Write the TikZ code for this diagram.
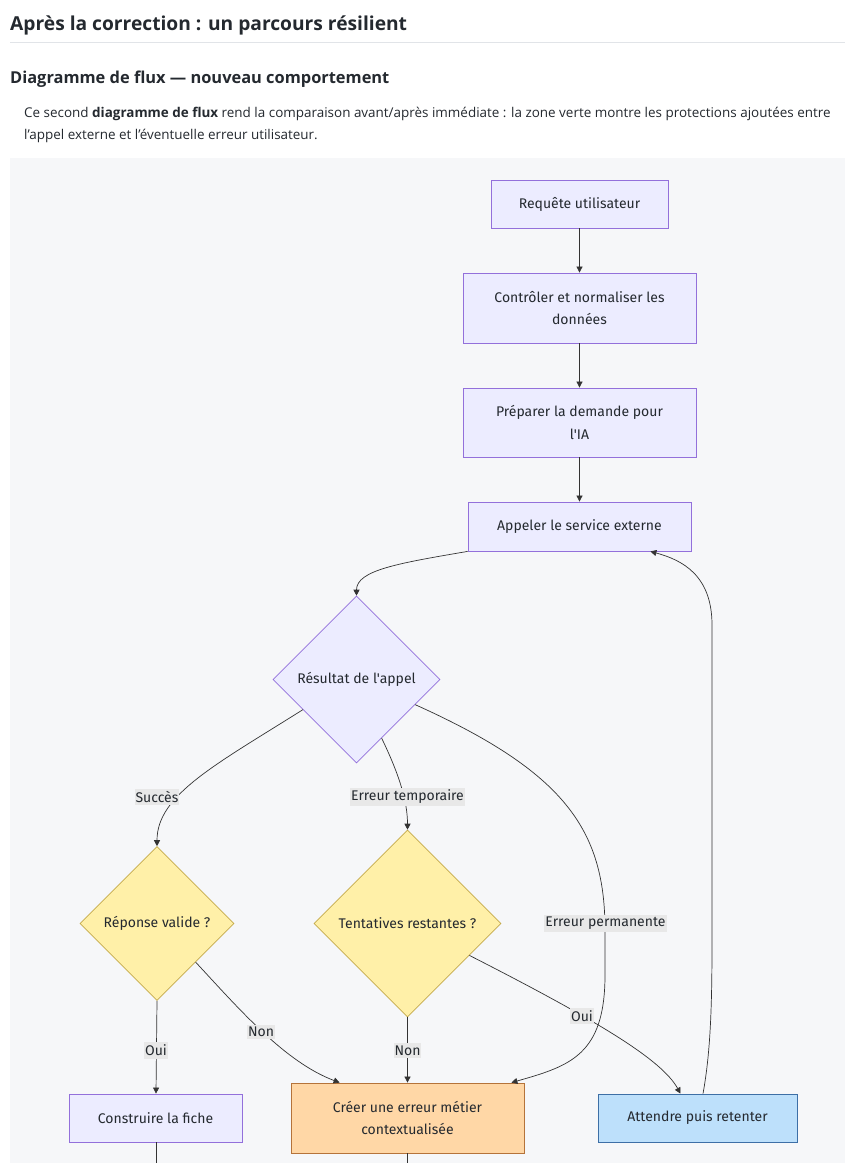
\documentclass[tikz,border=0pt]{standalone}
\usepackage{fontspec}
\setmainfont{Open Sans}
\newfontfamily\dfont{Fira Sans}
\usetikzlibrary{shapes.geometric,arrows.meta,calc}
\definecolor{bgpanel}{HTML}{F6F7F9}
\definecolor{purplefill}{HTML}{ECECFF}
\definecolor{purpleline}{HTML}{9370DB}
\definecolor{yellowfill}{HTML}{FFF0A8}
\definecolor{yellowline}{HTML}{C4AA4A}
\definecolor{orangefill}{HTML}{FFD7A6}
\definecolor{orangeline}{HTML}{B5733A}
\definecolor{bluefill}{HTML}{BDE0FB}
\definecolor{blueline}{HTML}{3D6FA6}
\definecolor{edgecol}{HTML}{333333}
\definecolor{txtcol}{HTML}{24292F}
\definecolor{lblfill}{HTML}{E8E8E8}
\definecolor{rulecol}{HTML}{E1E4E8}
\tikzset{
  x=1pt, y=-1pt,
  dtext/.style={font=\dfont\fontsize{14}{22.5}\selectfont, text=txtcol, align=center},
  pbox/.style={dtext, draw=purpleline, fill=purplefill, line width=0.8pt, rectangle, inner sep=0pt},
  ybox/.style={dtext, draw=yellowline, fill=yellowfill, line width=0.6pt, diamond, aspect=1, inner sep=0pt},
  pdia/.style={dtext, draw=purpleline, fill=purplefill, line width=0.6pt, diamond, aspect=1, inner sep=0pt},
  obox/.style={dtext, draw=orangeline, fill=orangefill, line width=0.8pt, rectangle, inner sep=0pt},
  bbox/.style={dtext, draw=blueline, fill=bluefill, line width=0.8pt, rectangle, inner sep=0pt},
  flow/.style={draw=edgecol, line width=0.7pt, -{Triangle[length=6pt,width=6pt]}},
  plain/.style={draw=edgecol, line width=0.7pt},
  lbl/.style={font=\dfont\fontsize{14}{16}\selectfont, text=txtcol, fill=lblfill, inner xsep=1pt, inner ysep=2.5pt},
}
\begin{document}
\begin{tikzpicture}
\useasboundingbox (0,0) rectangle (845,1163);
\fill[white] (0,0) rectangle (845,1163);
% headings
\node[anchor=base west, inner sep=0, text=txtcol, font=\fontsize{19.2}{24}\selectfont\bfseries] (title) at (10,30) {Après la correction : un parcours résilient};
\draw[rulecol, line width=0.8pt] (10,42.5) -- (845,42.5);
\node[anchor=base west, inner sep=0, text=txtcol, font=\fontsize{16.4}{20}\selectfont\bfseries] (sub) at (10,83) {Diagramme de flux — nouveau comportement};
\node[anchor=base west, inner sep=0, text=txtcol, font=\fontsize{13.45}{16}\selectfont] (p1) at (24,117) {Ce second \textbf{diagramme de flux} rend la comparaison avant/après immédiate : la zone verte montre les protections ajoutées entre};
\node[anchor=base west, inner sep=0, text=txtcol, font=\fontsize{13.45}{16}\selectfont] (p2) at (24,139) {l’appel externe et l’éventuelle erreur utilisateur.};
% panel
\fill[bgpanel] (10,158) rectangle (845,1163);
% nodes
\node[pbox, minimum width=177pt, minimum height=48pt] (req) at (579.5,204) {Requête utilisateur};
\node[pbox, minimum width=233pt, minimum height=70pt] (ctrl) at (579.5,308) {Contrôler et normaliser les\\données};
\node[pbox, minimum width=233pt, minimum height=69pt] (prep) at (579.5,422.5) {Préparer la demande pour\\l'IA};
\node[pbox, minimum width=223pt, minimum height=49pt] (call) at (579.5,526.5) {Appeler le service externe};
\node[pdia, minimum width=167pt, minimum height=167pt] (res) at (356.5,679.5) {Résultat de l'appel};
\node[ybox, minimum width=154pt, minimum height=154pt] (rv) at (157,923.5) {Réponse valide ?};
\node[ybox, minimum width=187pt, minimum height=187pt] (tent) at (407.5,923.5) {Tentatives restantes ?};
\node[pbox, minimum width=173pt, minimum height=48pt] (fiche) at (155.5,1118) {Construire la fiche};
\node[obox, minimum width=233pt, minimum height=70pt] (err) at (407.5,1118) {Créer une erreur métier\\contextualisée};
\node[bbox, minimum width=199pt, minimum height=48pt] (wait) at (697.5,1118) {Attendre puis retenter};
\coordinate (ficheout) at (156,1163);
\coordinate (errout) at (407.5,1163);
% edges
\draw[flow] (req) -- (ctrl);
\draw[flow] (ctrl) -- (prep);
\draw[flow] (prep) -- (call);
\draw[flow] (call.south west) .. controls (400,563) and (356.5,570) .. (res.north);
\draw[flow] ($(res.west)!0.36!(res.south)$) .. controls (215,765) and (157,795) .. (rv.north);
\draw[flow] ($(res.south)!0.3!(res.east)$) .. controls (398,772) and (407.5,800) .. (tent.north);
\draw[flow] ($(res.south)!0.7!(res.east)$) .. controls (565,772) and (605,830) .. (605,930) -- (605,975) .. controls (605,1055) and (570,1066) .. ($(err.north east)+(-13,0)$);
\draw[flow] ($(rv.south)!0.5!(rv.east)$) .. controls (240,1010) and (285,1062) .. ($(err.north west)+(49,0)$);
\draw[flow] (rv.south) -- ($(fiche.north)+(0.5,0)$);
\draw[flow] (tent.south) -- (err.north);
\draw[flow] ($(tent.south)!0.66!(tent.east)$) .. controls (600,1022) and (662,1060) .. ($(wait.north)+(-17,0)$);
\draw[flow] ($(wait.north)+(5.5,0)$) .. controls (711,1050) and (712,1000) .. (712,940) -- (712,625) .. controls (712,575) and (682,560) .. ($(call.south east)+(-41,0)$);
\draw[plain] ($(fiche.south)+(0.5,0)$) -- (ficheout);
\draw[plain] (err.south) -- (errout);
% labels
\node[lbl] (lsucc) at (157,797) {Succès};
\node[lbl] (ltemp) at (407.5,797) {Erreur temporaire};
\node[lbl] (lperm) at (605.5,923.5) {Erreur permanente};
\node[lbl] (lnon1) at (261,1032) {Non};
\node[lbl] (loui1) at (156,1050.5) {Oui};
\node[lbl] (lnon2) at (407.5,1050.5) {Non};
\node[lbl] (loui2) at (582,1016) {Oui};
\end{tikzpicture}
\end{document}
